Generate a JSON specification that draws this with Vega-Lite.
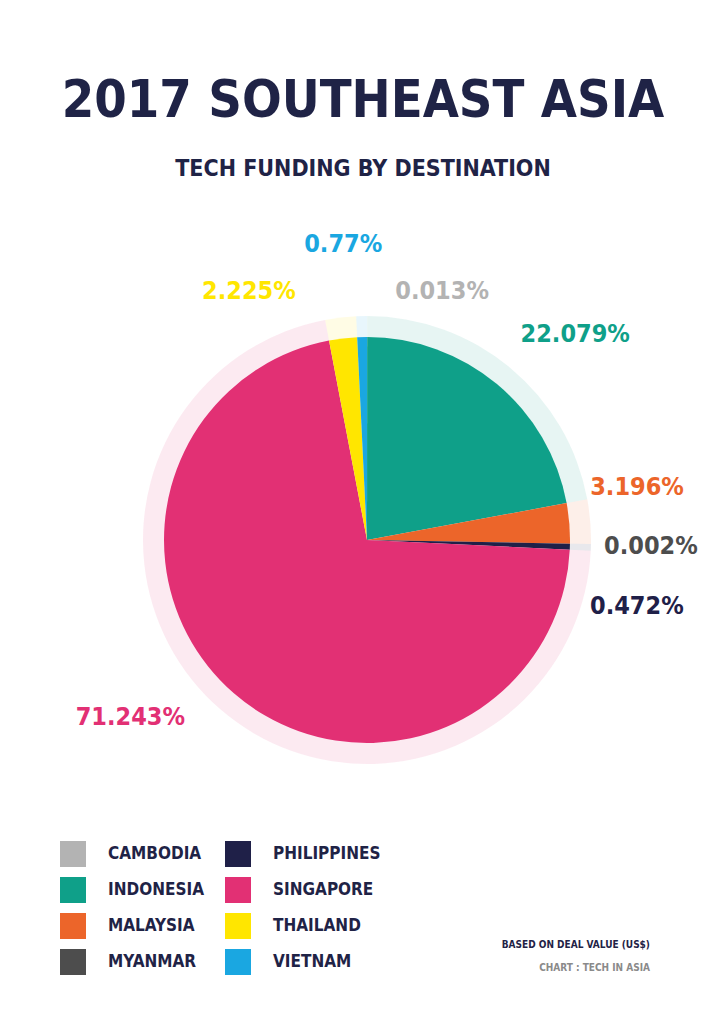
{
  "$schema": "https://vega.github.io/schema/vega-lite/v6.json",
  "background": "white",
  "padding": {"left": 60, "top": 75, "right": 0, "bottom": 0},
  "bounds": "flush",
  "spacing": 107,
  "config": {"view": {"stroke": null}, "font": "'DejaVu Sans Condensed', 'Liberation Sans', sans-serif"},
  "title": {
    "text": "2017 SOUTHEAST ASIA",
    "subtitle": "TECH FUNDING BY DESTINATION",
    "anchor": "middle",
    "dx": -28,
    "font": "'DejaVu Sans Condensed', 'Liberation Sans', sans-serif",
    "fontSize": 52,
    "fontWeight": "bold",
    "color": "#1f2346",
    "subtitleFont": "'DejaVu Sans Condensed', 'Liberation Sans', sans-serif",
    "subtitleFontSize": 23,
    "subtitleFontWeight": "bold",
    "subtitleColor": "#1f2346",
    "subtitlePadding": 30,
    "offset": 32
  },
  "datasets": {
    "funding": [
      {"country": "Cambodia", "pct": 0.013, "label": "0.013%"},
      {"country": "Indonesia", "pct": 22.079, "label": "22.079%"},
      {"country": "Malaysia", "pct": 3.196, "label": "3.196%"},
      {"country": "Myanmar", "pct": 0.002, "label": "0.002%"},
      {"country": "Philippines", "pct": 0.472, "label": "0.472%"},
      {"country": "Singapore", "pct": 71.243, "label": "71.243%"},
      {"country": "Thailand", "pct": 2.225, "label": "2.225%"},
      {"country": "Vietnam", "pct": 0.77, "label": "0.77%"}
    ]
  },
  "vconcat": [
    {
      "width": 614,
      "height": 652,
      "data": {"name": "funding"},
      "encoding": {
        "theta": {"field": "pct", "type": "quantitative", "stack": true},
        "color": {
          "field": "country",
          "type": "nominal",
          "scale": {
            "domain": ["Cambodia", "Indonesia", "Malaysia", "Myanmar", "Philippines", "Singapore", "Thailand", "Vietnam"],
            "range": ["#b3b3b3", "#0fa089", "#ec652a", "#4d4d4d", "#1f2048", "#e23074", "#ffe600", "#1aa7e1"]
          }
        }
      },
      "layer": [
        {"mark": {"type": "arc", "radius": 224, "fillOpacity": 0.1}},
        {
          "mark": {"type": "arc", "radius": 203},
          "encoding": {
            "theta": {"field": "pct", "type": "quantitative", "stack": true},
            "color": {
              "field": "country",
              "type": "nominal",
              "legend": {
                "orient": "none",
                "legendX": 0,
                "legendY": 627,
                "title": null,
                "columns": 2,
                "labelExpr": "upper(datum.label)",
                "labelFont": "'DejaVu Sans Condensed', 'Liberation Sans', sans-serif",
                "labelFontWeight": "bold",
                "labelFontSize": 17,
                "labelColor": "#1f2346",
                "labelOffset": 22,
                "symbolType": "square",
                "symbolSize": 676,
                "symbolStrokeWidth": 0,
                "symbolOpacity": 1,
                "rowPadding": 10,
                "columnPadding": 21,
                "padding": 0,
                "encode": {"symbols": {"update": {"opacity": {"value": 1}, "fillOpacity": {"value": 1}}}}
              }
            }
          }
        },
        {
          "mark": {"type": "text", "radius": 280, "dx": 75, "dy": 31, "fontSize": 25, "fontWeight": "bold", "align": "center", "baseline": "middle"},
          "encoding": {"text": {"condition": {"test": "datum.country === 'Cambodia'", "field": "label"}, "value": ""}}
        },
        {
          "mark": {"type": "text", "radius": 280, "dx": 29, "dy": 9, "fontSize": 25, "fontWeight": "bold", "align": "center", "baseline": "middle"},
          "encoding": {"text": {"condition": {"test": "datum.country === 'Indonesia'", "field": "label"}, "value": ""}}
        },
        {
          "mark": {"type": "text", "radius": 280, "dx": -9, "dy": -30, "fontSize": 25, "fontWeight": "bold", "align": "center", "baseline": "middle"},
          "encoding": {"text": {"condition": {"test": "datum.country === 'Malaysia'", "field": "label"}, "value": ""}}
        },
        {
          "mark": {"type": "text", "radius": 280, "dx": 4, "dy": 1, "fontSize": 25, "fontWeight": "bold", "align": "center", "baseline": "middle"},
          "encoding": {"text": {"condition": {"test": "datum.country === 'Myanmar'", "field": "label"}, "value": ""}}
        },
        {
          "mark": {"type": "text", "radius": 280, "dx": -10, "dy": 57, "fontSize": 25, "fontWeight": "bold", "align": "center", "baseline": "middle"},
          "encoding": {"text": {"condition": {"test": "datum.country === 'Philippines'", "field": "label"}, "value": ""}}
        },
        {
          "mark": {"type": "text", "radius": 280, "dx": -53, "dy": -34, "fontSize": 25, "fontWeight": "bold", "align": "center", "baseline": "middle"},
          "encoding": {"text": {"condition": {"test": "datum.country === 'Singapore'", "field": "label"}, "value": ""}}
        },
        {
          "mark": {"type": "text", "radius": 280, "dx": -85, "dy": 29, "fontSize": 25, "fontWeight": "bold", "align": "center", "baseline": "middle"},
          "encoding": {"text": {"condition": {"test": "datum.country === 'Thailand'", "field": "label"}, "value": ""}}
        },
        {
          "mark": {"type": "text", "radius": 280, "dx": -17, "dy": -16, "fontSize": 25, "fontWeight": "bold", "align": "center", "baseline": "middle"},
          "encoding": {"text": {"condition": {"test": "datum.country === 'Vietnam'", "field": "label"}, "value": ""}}
        }
      ]
    },
    {
      "width": 590,
      "height": 1,
      "data": {"values": []},
      "mark": {"type": "point", "opacity": 0},
      "title": {
        "text": "BASED ON DEAL VALUE (US$)",
        "subtitle": "CHART : TECH IN ASIA",
        "anchor": "end",
        "frame": "group",
        "font": "'DejaVu Sans Condensed', 'Liberation Sans', sans-serif",
        "fontSize": 10,
        "fontWeight": "bold",
        "color": "#1f2346",
        "subtitleFont": "'DejaVu Sans Condensed', 'Liberation Sans', sans-serif",
        "subtitleFontSize": 10,
        "subtitleFontWeight": "bold",
        "subtitleColor": "#8a8a8a",
        "subtitlePadding": 13,
        "offset": 0
      }
    }
  ]
}
